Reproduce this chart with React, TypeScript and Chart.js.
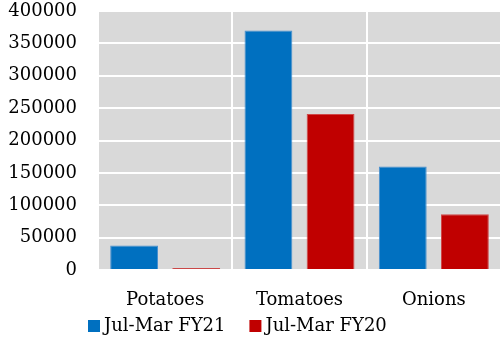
import React, { useEffect, useRef } from "react";
import { Chart, registerables } from "chart.js";

Chart.register(...registerables);

const categories = ["Potatoes", "Tomatoes", "Onions"];
const seriesNames = ["Jul-Mar FY21", "Jul-Mar FY20"];
const fy21Values = [38000, 370000, 160000];
const fy20Values = [3000, 241000, 86000];
const yTicks = [0, 50000, 100000, 150000, 200000, 250000, 300000, 350000, 400000];
const seriesColors = ["#0070C0", "#C00000"];
const seriesEdges = ["#4A90CF", "#D04848"];

const FONT = "'DejaVu Serif', serif";
const FONT_SIZE = 18;

// Fills the plotting area with the grey panel before gridlines and bars are drawn
const plotBackground = {
  id: "plotBackground",
  beforeDraw(chart: any) {
    const { ctx, chartArea } = chart;
    ctx.save();
    ctx.fillStyle = "#D9D9D9";
    ctx.fillRect(chartArea.left, chartArea.top, chartArea.right - chartArea.left, chartArea.bottom - chartArea.top);
    ctx.restore();
  },
};

// Compact legend row under the category labels: square swatch followed by the series name
const seriesLegend = {
  id: "seriesLegend",
  afterDraw(chart: any) {
    const { ctx } = chart;
    const startX = 88;
    const centerY = 326;
    const box = 12;
    const textGap = 4;
    const itemGap = 24;
    ctx.save();
    ctx.font = `${FONT_SIZE}px ${FONT}`;
    ctx.textBaseline = "middle";
    ctx.textAlign = "left";
    let x = startX;
    chart.data.datasets.forEach((ds: any) => {
      ctx.fillStyle = ds.backgroundColor;
      ctx.fillRect(x, centerY - box / 2, box, box);
      x += box + textGap;
      ctx.fillStyle = "#000000";
      ctx.fillText(ds.label, x, centerY);
      x += ctx.measureText(ds.label).width + itemGap;
    });
    ctx.restore();
  },
};

export default function App() {
  const canvasRef = useRef<HTMLCanvasElement | null>(null);

  useEffect(() => {
    document.body.style.margin = "0";
    const canvas = canvasRef.current;
    if (!canvas) return;
    const chart = new Chart(canvas, {
      type: "bar",
      data: {
        labels: categories,
        datasets: [
          {
            label: seriesNames[0],
            data: fy21Values,
            backgroundColor: seriesColors[0],
            borderColor: seriesEdges[0],
            borderWidth: 1,
            categoryPercentage: 0.925,
            barPercentage: 0.77,
          },
          {
            label: seriesNames[1],
            data: fy20Values,
            backgroundColor: seriesColors[1],
            borderColor: seriesEdges[1],
            borderWidth: 1,
            categoryPercentage: 0.925,
            barPercentage: 0.77,
          },
        ],
      },
      options: {
        animation: false,
        responsive: false,
        maintainAspectRatio: false,
        layout: { padding: { top: 11, right: 0, bottom: 33, left: 0 } },
        scales: {
          x: {
            afterFit(scale: any) {
              scale.height = 42;
              scale.paddingLeft = 0;
              scale.paddingRight = 0;
            },
            grid: { color: "#FFFFFF", lineWidth: 2, drawTicks: false, offset: true },
            border: { display: false },
            ticks: { color: "#000000", font: { family: FONT, size: FONT_SIZE }, padding: 20 },
          },
          y: {
            min: 0,
            max: 400000,
            afterFit(scale: any) {
              scale.width = 98;
              scale.paddingTop = 0;
              scale.paddingBottom = 0;
            },
            afterBuildTicks(scale: any) {
              scale.ticks = yTicks.map((v) => ({ value: v }));
            },
            grid: { color: "#FFFFFF", lineWidth: 2, drawTicks: false },
            border: { display: false },
            ticks: {
              color: "#000000",
              font: { family: FONT, size: FONT_SIZE },
              padding: 21,
              callback: (v: any) => String(v),
            },
          },
        },
        plugins: {
          legend: { display: false },
          tooltip: { enabled: false },
        },
      },
      plugins: [plotBackground, seriesLegend],
    });
    return () => chart.destroy();
  }, []);

  return (
    <div style={{ width: 501, height: 345, background: "#FFFFFF" }}>
      <canvas ref={canvasRef} width={501} height={345} style={{ display: "block" }} />
    </div>
  );
}
